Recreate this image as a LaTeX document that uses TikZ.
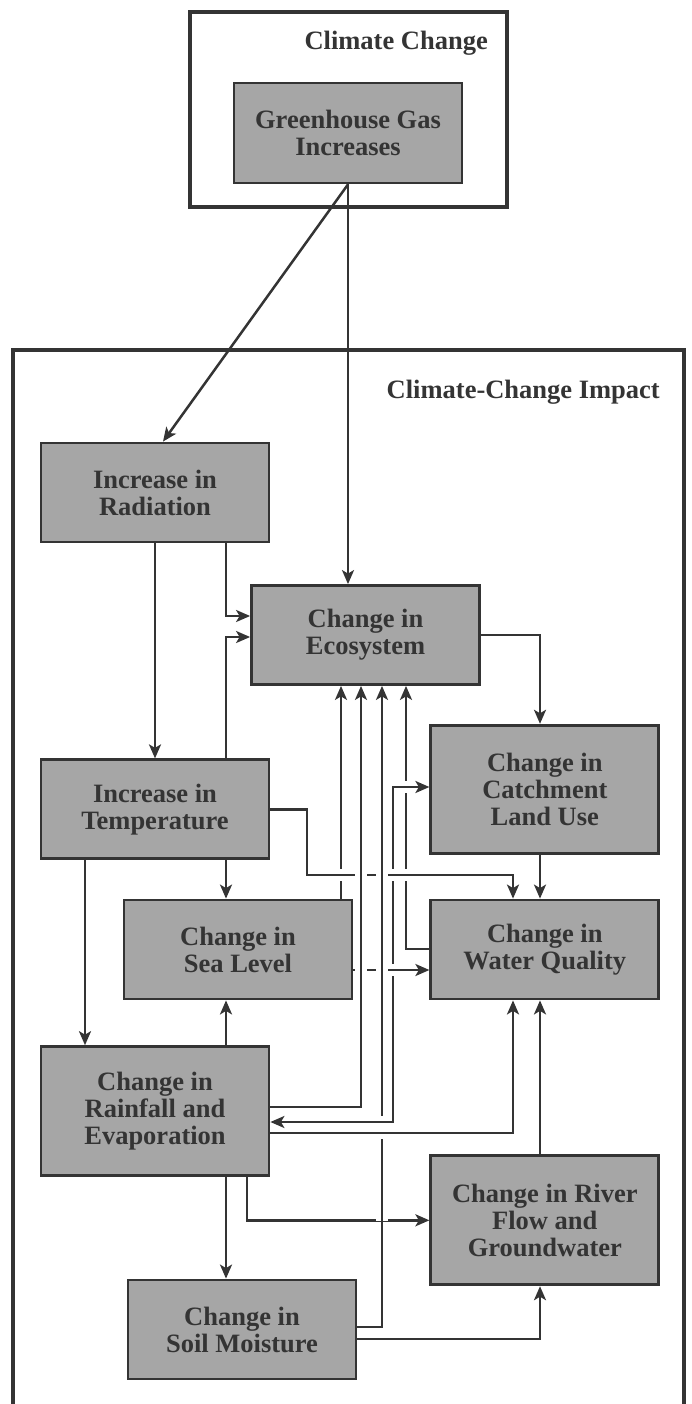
\documentclass[tikz,border=0pt]{standalone}
\usepackage{fontspec}
\setmainfont{Liberation Serif}
\usetikzlibrary{positioning,arrows.meta}
\definecolor{ink}{RGB}{52,52,52}
\definecolor{shade}{RGB}{166,166,166}

\begin{document}
\begin{tikzpicture}[x=1pt, y=-1pt,
  box/.style={draw=ink, fill=shade, line width=2.8pt, minimum width=228pt, minimum height=#1, inner sep=0pt, align=center, text=ink, font=\fontsize{26.5}{27}\selectfont\bfseries},
  box/.default=99pt,
  frame/.style={draw=ink, line width=3.5pt, minimum width=#1},
  title/.style={text=ink, inner sep=0pt, font=\fontsize{26.5}{27}\selectfont\bfseries},
  wire/.style={draw=ink, line width=2.5pt},
  arr/.style={wire, -{Stealth[length=14pt, width=12pt, inset=3.5pt]}},
  arrs/.style={wire, {Stealth[length=14pt, width=12pt, inset=3.5pt]}-{Stealth[length=14pt, width=12pt, inset=3.5pt]}}]
\useasboundingbox (0,0) rectangle (691,1404);

% groups
\node[frame=317pt, minimum height=195pt] (ccbox) at (348.5,109.5) {};
\node[title, anchor=base east] (cclabel) at (488,50) {Climate Change};
\node[frame=671pt, minimum height=1066pt] (impact) at (348.5,883) {};
\node[title, anchor=base east] (implabel) at (660,398) {Climate-Change Impact};

% boxes
\node[box, minimum height=100pt] (ghg) at (348,133) {Greenhouse Gas\\ Increases};
\node[box] (rad) at (155,492.5) {Increase in\\ Radiation};
\node[box] (eco) at (365.5,635) {Change in\\ Ecosystem};
\node[box, below=215pt of rad] (temp) {Increase in\\ Temperature};
\node[box, below=185pt of temp, minimum height=129pt] (rain) {Change in\\ Rainfall and\\ Evaporation};
\node[box] (sea) at (238,949.5) {Change in\\ Sea Level};
\node[box, right=76pt of sea] (wq) {Change in\\ Water Quality};
\node[box, above=44pt of wq, minimum height=128pt] (catch) {Change in\\ Catchment\\ Land Use};
\node[box, below=154pt of wq, minimum height=129pt] (river) {Change in River\\ Flow and\\ Groundwater};
\node[box] (soil) at (242,1329.5) {Change in\\ Soil Moisture};

% lanes for the connectors
\foreach \v in {85,163,226,247,307,341,361,382,393,406,513,540}
  \coordinate (x\v) at (\v,0);
\foreach \h in {616,637,787,875,949,970,1107,1122,1133,1327,1339}
  \coordinate (y\h) at (0,\h);

% connectors
\draw[arr] (ghg.south) -- (x163 |- rad.north);
\draw[arr] (ghg.south) -- (ghg.south |- eco.north);
\draw[arr] (rad) -- (temp);
\draw[arr] (x226 |- rad.south) |- (eco.west |- y616);
\draw[arr] (x226 |- temp.north) |- (eco.west |- y637);
\draw[arr] (eco.east) -| (x540 |- catch.north);
\draw[arr] (temp.east) -| (x307 |- y875) -| (x513 |- wq.north);
\draw[arr] (x226 |- temp.south) -- (x226 |- sea.north);
\draw[arr] (x85 |- temp.south) -- (x85 |- rain.north);
\draw[arr] (x226 |- rain.north) -- (x226 |- sea.south);
\draw[arr] (x341 |- sea.north) -- (x341 |- eco.south);
\draw[arr] (sea.east |- y970) -- (wq.west |- y970);
\draw[arr] (wq.west |- y949) -| (x406 |- eco.south);
\draw[arrs] (rain.east |- y1122) -| (x393 |- y787) -- (catch.west |- y787);
\draw[arr] (rain.east |- y1107) -| (x361 |- eco.south);
\draw[arr] (rain.east |- y1133) -| (x513 |- wq.south);
\draw[arr] (x540 |- catch.south) -- (x540 |- wq.north);
\draw[arr] (x540 |- river.north) -- (x540 |- wq.south);
\draw[arr] (x226 |- rain.south) -- (x226 |- soil.north);
\draw[arr] (x247 |- rain.south) |- (river.west);
\draw[arr] (soil.east |- y1327) -| (x382 |- eco.south);
\draw[arr] (soil.east |- y1339) -| (x540 |- river.south);

% gaps where lines cross
\foreach \x/\y in {341/875,393/875,406/875,393/970,406/787,382/1122,382/1133} {
  \fill[white] (\x-2.5,\y-6) rectangle (\x+2.5,\y+6);
  \draw[wire] (\x-3.5,\y) -- (\x+3.5,\y);}
\foreach \x/\y in {361/875,382/875,361/970,382/970,382/1218} {
  \fill[white] (\x-6,\y-2.5) rectangle (\x+6,\y+2.5);
  \draw[wire] (\x,\y-3.5) -- (\x,\y+3.5);}
\end{tikzpicture}
\end{document}
